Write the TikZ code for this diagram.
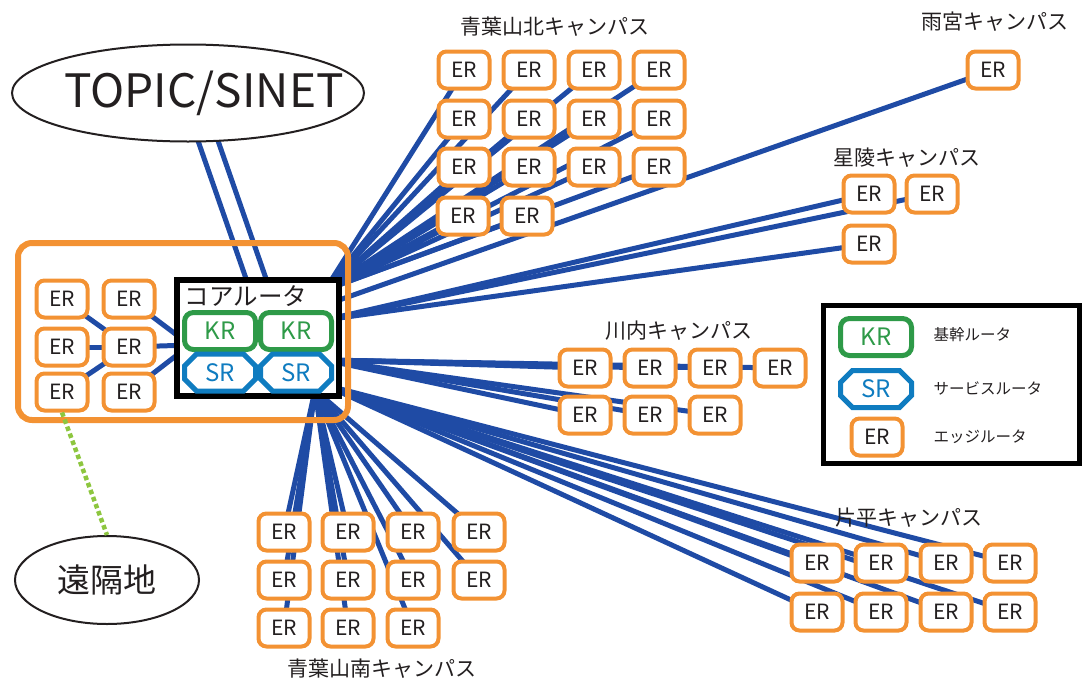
\documentclass[tikz,border=0pt]{standalone}
\usepackage{fontspec}
\setmainfont{Noto Sans CJK JP}
\usepackage{tikz}
\usetikzlibrary{shapes.geometric,shapes.misc,backgrounds}

\definecolor{erorange}{HTML}{F39233}
\definecolor{krgreen}{HTML}{2E9A48}
\definecolor{srblue}{HTML}{0F7CC0}
\definecolor{linkblue}{HTML}{1F4BA5}
\definecolor{dotgreen}{HTML}{8DC63F}
\definecolor{textgray}{HTML}{231F20}

\tikzset{
  er/.style={draw=erorange, line width=4pt, rounded corners=8pt, fill=white,
    minimum width=51pt, minimum height=37pt, inner sep=0pt,
    font=\fontsize{21}{21}\selectfont, text=textgray},
  kr/.style={draw=krgreen, line width=5pt, rounded corners=9pt, fill=white,
    minimum width=71pt, minimum height=37pt, inner sep=0pt,
    font=\fontsize{24}{24}\selectfont, text=krgreen},
  sr/.style={chamfered rectangle, chamfered rectangle xsep=6pt, chamfered rectangle ysep=6pt,
    draw=srblue, line width=5pt, fill=white,
    minimum width=71pt, minimum height=37pt, inner sep=0pt,
    font=\fontsize{24}{24}\selectfont, text=srblue},
  link/.style={linkblue, line width=5pt},
  campus/.style={font=\fontsize{21}{21}\selectfont, text=textgray},
  cloudnet/.style={ellipse, draw=textgray, line width=2pt, fill=white, inner sep=0pt},
  legendtext/.style={anchor=west, font=\fontsize{15.5}{16}\selectfont, text=textgray},
}

\begin{document}
\begin{tikzpicture}[x=1pt, y=-1pt]
  \useasboundingbox (0,0) rectangle (1082,683);

  % outside networks
  \node[cloudnet, minimum width=352pt, minimum height=97pt,
    label={[font=\fontsize{46}{46}\selectfont, text=textgray, xshift=16pt]center:TOPIC/SINET}] (topic) at (188,93) {};
  \node[cloudnet, minimum width=184pt, minimum height=88pt,
    label={[font=\fontsize{33}{33}\selectfont, text=textgray]center:遠隔地}] (remote) at (107,580) {};

  % main campus
  \draw[erorange, line width=6pt, rounded corners=14pt] (18,243) rectangle (348,420);
  \node[draw=black, line width=6pt, fill=white, minimum width=162pt, minimum height=116.5pt] (core) at (257.5,338) {};
  \node[font=\fontsize{24.5}{24}\selectfont, text=textgray] (corelabel) at (246,296) {コアルータ};
  \node[kr] (kr1) at (220,331) {KR};
  \node[kr] (kr2) at (296,331) {KR};
  \node[sr] (sr1) at (220,372.5) {SR};
  \node[sr] (sr2) at (296,372.5) {SR};

  \node[er] (m11) at (62,299) {ER};
  \node[er] (m12) at (129,299) {ER};
  \node[er] (m21) at (62,347) {ER};
  \node[er] (m22) at (129,347) {ER};
  \node[er] (m31) at (62,392) {ER};
  \node[er] (m32) at (129,392) {ER};

  \coordinate (cL) at (190,345);
  \coordinate (cN) at (325,290);
  \coordinate (cA) at (325,305);
  \coordinate (cSe) at (325,320);
  \coordinate (cW) at (325,360);
  \coordinate (cK) at (325,385);
  \coordinate (cS) at (315,390);
  \coordinate (topicA) at (196,135);
  \coordinate (topicB) at (216,135);
  \coordinate (coreA) at (250,290);
  \coordinate (coreB) at (270,290);

  % campuses
  \node[campus] (northlabel) at (555,27) {青葉山北キャンパス};
  \foreach \r/\y in {1/70,2/119,3/167}
    \foreach \c/\x in {1/464,2/529,3/594,4/659}
      \node[er] (n\r\c) at (\x,\y) {ER};
  \node[er] (n41) at (463,216) {ER};
  \node[er] (n42) at (527,216) {ER};

  \node[campus] (amalabel) at (995,22) {雨宮キャンパス};
  \node[er] (am1) at (993,70) {ER};

  \node[campus] (seilabel) at (907,158) {星陵キャンパス};
  \node[er] (se1) at (869,194) {ER};
  \node[er] (se2) at (932,194) {ER};
  \node[er] (se3) at (869,244) {ER};

  \node[campus] (kawlabel) at (679,331) {川内キャンパス};
  \foreach \c/\x in {1/585,2/650,3/715,4/780}
    \node[er] (w1\c) at (\x,368) {ER};
  \foreach \c/\x in {1/585,2/650,3/715}
    \node[er] (w2\c) at (\x,415) {ER};

  \node[campus] (katlabel) at (909,518) {片平キャンパス};
  \foreach \r/\y in {1/563,2/612}
    \foreach \c/\x in {1/817,2/881,3/946,4/1010}
      \node[er] (k\r\c) at (\x,\y) {ER};

  \node[campus] (southlabel) at (382,669) {青葉山南キャンパス};
  \foreach \r/\y in {1/532,2/580}
    \foreach \c/\x in {1/284,2/348,3/413,4/479}
      \node[er] (s\r\c) at (\x,\y) {ER};
  \foreach \c/\x in {1/284,2/348,3/413}
    \node[er] (s3\c) at (\x,628) {ER};

  % links
  \begin{scope}[on background layer]
    \draw[link] (topicA) -- (coreA);
    \draw[link] (topicB) -- (coreB);
    \draw[link] (m11.center) -- (m22.center);
    \draw[link] (m21.center) -- (m22.center);
    \draw[link] (m31.center) -- (m22.center);
    \foreach \n in {m12,m22,m32}
      \draw[link] (\n.center) -- (cL);
    \foreach \n in {n11,n12,n13,n14,n21,n22,n23,n24,n31,n32,n33,n34,n41,n42}
      \draw[link] (cN) -- (\n.center);
    \draw[link] (cA) -- (am1.center);
    \foreach \n in {se1,se2,se3}
      \draw[link] (cSe) -- (\n.center);
    \foreach \n in {w11,w12,w13,w14,w21,w22,w23}
      \draw[link] (cW) -- (\n.center);
    \foreach \n in {k11,k12,k13,k14,k21,k22,k23,k24}
      \draw[link] (cK) -- (\n.center);
    \foreach \n in {s11,s12,s13,s14,s21,s22,s23,s24,s31,s32,s33}
      \draw[link] (cS) -- (\n.center);
  \end{scope}
  \draw[dotgreen, line width=4.5pt, dash pattern=on 4.5pt off 3pt] (m31.south) -- (remote.north);

  % legend
  \draw[black, line width=5pt] (823,305) rectangle (1079,463);
  \node[kr] (legkr) at (876,337) {KR};
  \node[sr] (legsr) at (876,389) {SR};
  \node[er] (leger) at (877,437) {ER};
  \node[legendtext] at (930,335) {基幹ルータ};
  \node[legendtext] at (930,388) {サービスルータ};
  \node[legendtext] at (930,437) {エッジルータ};
\end{tikzpicture}
\end{document}
